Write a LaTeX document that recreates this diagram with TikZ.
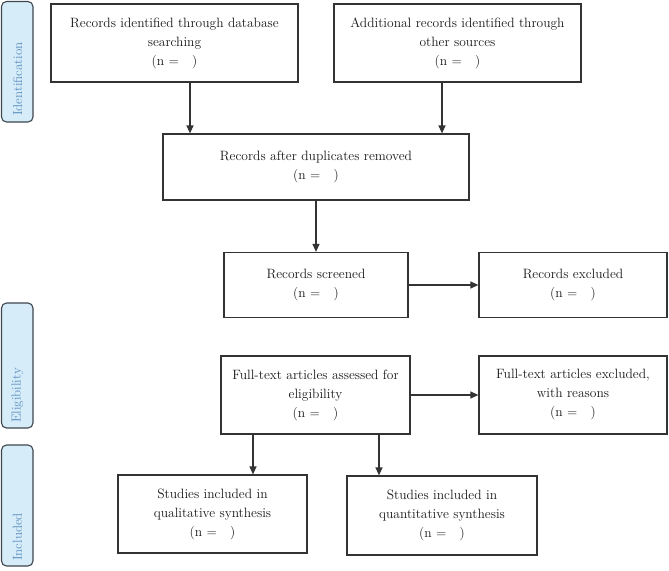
\documentclass[tikz,border=0pt]{standalone}
\usetikzlibrary{arrows.meta}
\definecolor{linegray}{HTML}{333333}
\definecolor{tabfill}{HTML}{D6ECF9}
\definecolor{tabtext}{HTML}{5A8DBE}
\definecolor{tabborder}{HTML}{3E464E}
\begin{document}
\begin{tikzpicture}[x=1pt,y=-1pt,
  box/.style={draw=linegray, line width=1.2pt, fill=white, inner sep=0pt, align=center,
    font=\fontsize{13.5}{19}\selectfont, text=black!90},
  arr/.style={draw=linegray, line width=1.2pt, -{Triangle[length=8pt,width=7pt]}},
  tab/.style={draw=tabborder, line width=1.1pt, fill=tabfill, rounded corners=5pt},
  tablabel/.style={rotate=90, anchor=west, inner sep=0pt, text=tabtext, font=\fontsize{13}{14}\selectfont}]
\useasboundingbox (0,0) rectangle (669,570);
% side tabs
\draw[tab] (1.5,1.5) rectangle (33,122);
\node[tablabel] (tid) at (17.5,116) {Identification};
\draw[tab] (1.5,303) rectangle (33,428);
\node[tablabel] (tel) at (17.5,423) {Eligibility};
\draw[tab] (1.5,445) rectangle (33,566);
\node[tablabel] (tin) at (17.5,561) {Included};
% boxes
\node[box, minimum width=247pt, minimum height=78pt] (b1) at (174.5,43)
  {Records identified through database\\searching\\(n =\ \ \ )};
\node[box, minimum width=247pt, minimum height=78pt] (b2) at (457.5,43)
  {Additional records identified through\\other sources\\(n =\ \ \ )};
\node[box, minimum width=306pt, minimum height=66pt] (b3) at (316,167)
  {Records after duplicates removed\\(n =\ \ \ )};
\node[box, minimum width=184pt, minimum height=65pt] (b4) at (316,285)
  {Records screened\\(n =\ \ \ )};
\node[box, minimum width=188pt, minimum height=65pt] (b5) at (573,285)
  {Records excluded\\(n =\ \ \ )};
\node[box, minimum width=189pt, minimum height=78pt] (b6) at (315.5,395)
  {Full-text articles assessed for\\eligibility\\(n =\ \ \ )};
\node[box, minimum width=188pt, minimum height=78pt] (b7) at (573,395)
  {Full-text articles excluded,\\with reasons\\(n =\ \ \ )};
\node[box, minimum width=189pt, minimum height=78pt] (b8) at (212.5,514)
  {Studies included in\\qualitative synthesis\\(n =\ \ \ )};
\node[box, minimum width=190pt, minimum height=79pt] (b9) at (442,515.5)
  {Studies included in\\quantitative synthesis\\(n =\ \ \ )};
% connector x positions
\coordinate (c1) at (190,0);
\coordinate (c2) at (442,0);
\coordinate (c3) at (253,0);
\coordinate (c4) at (379,0);
% connectors
\draw[arr] (b1.south -| c1) -- (b3.north -| c1);
\draw[arr] (b2.south -| c2) -- (b3.north -| c2);
\draw[arr] (b3.south) -- (b4.north);
\draw[arr] (b4.east) -- (b5.west);
\draw[arr] (b6.east) -- (b7.west);
\draw[arr] (b6.south -| c3) -- (b8.north -| c3);
\draw[arr] (b6.south -| c4) -- (b9.north -| c4);
\end{tikzpicture}
\end{document}
